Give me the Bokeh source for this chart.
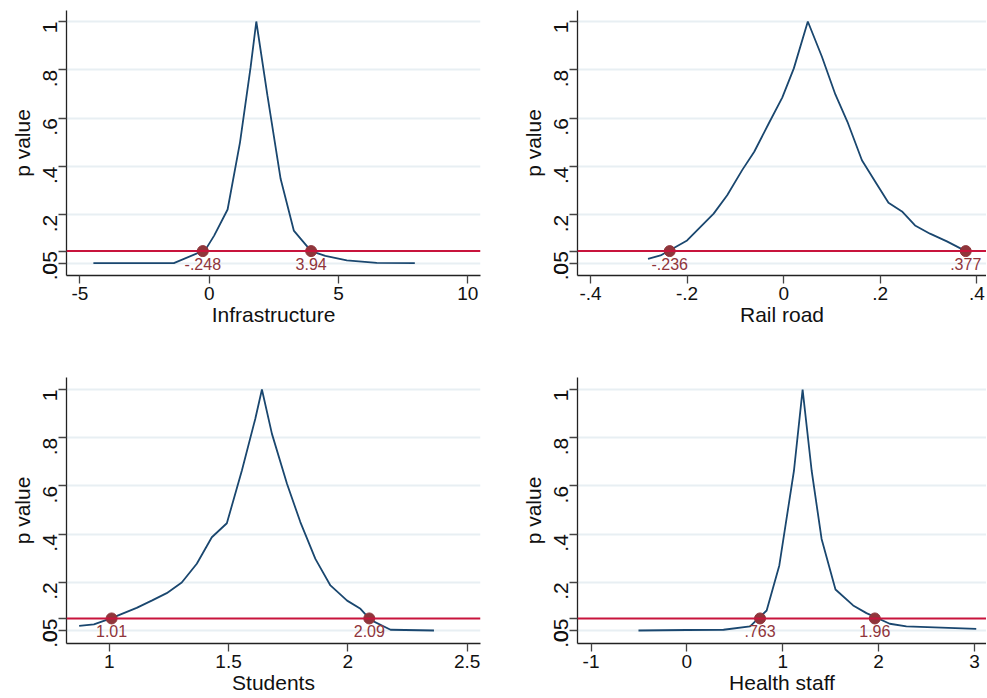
import math
from bokeh.plotting import figure
from bokeh.layouts import gridplot
from bokeh.models import FixedTicker, Span, ColumnDataSource, Range1d
from bokeh.core.properties import value
from bokeh.embed import file_html
from bokeh.resources import INLINE

# ---------------- data ----------------
alpha = 0.05
y_ticks = [0, 0.05, 0.2, 0.4, 0.6, 0.8, 1]
y_tick_labels = ["0", ".05", ".2", ".4", ".6", ".8", "1"]
grid_ticks = [0, 0.2, 0.4, 0.6, 0.8, 1]
y_label = "p value"

infra_title = "Infrastructure"
infra_x = [-4.48, -1.37, -0.15, 0.19, 0.71, 1.19, 1.60, 1.82, 2.25, 2.76, 3.27, 3.94, 4.49, 5.32, 6.48, 7.95]
infra_p = [0.0, 0.0, 0.055, 0.114, 0.222, 0.50, 0.811, 1.0, 0.694, 0.349, 0.135, 0.05, 0.03, 0.012, 0.001, 0.0]
infra_ci = [-0.248, 3.94]
infra_ci_labels = ["-.248", "3.94"]
infra_xticks = [-5, 0, 5, 10]
infra_xtick_labels = ["-5", "0", "5", "10"]

rail_title = "Rail road"
rail_x = [-0.281, -0.255, -0.2, -0.145, -0.117, -0.086, -0.061, -0.031, -0.003, 0.021, 0.05,
          0.079, 0.107, 0.132, 0.162, 0.19, 0.217, 0.245, 0.272, 0.303, 0.338, 0.377]
rail_p = [0.018, 0.032, 0.094, 0.205, 0.281, 0.385, 0.461, 0.578, 0.685, 0.806, 1.0,
          0.855, 0.698, 0.585, 0.426, 0.336, 0.250, 0.214, 0.156, 0.122, 0.090, 0.05]
rail_ci = [-0.236, 0.377]
rail_ci_labels = ["-.236", ".377"]
rail_xticks = [-0.4, -0.2, 0, 0.2, 0.4]
rail_xtick_labels = ["-.4", "-.2", "0", ".2", ".4"]

stud_title = "Students"
stud_x = [0.874, 0.936, 1.007, 1.115, 1.178, 1.241, 1.304, 1.367, 1.430, 1.493, 1.556, 1.612, 1.640,
          1.682, 1.745, 1.801, 1.864, 1.927, 1.997, 2.053, 2.095, 2.179, 2.361]
stud_p = [0.019, 0.025, 0.05, 0.094, 0.124, 0.155, 0.199, 0.277, 0.387, 0.445, 0.664, 0.878, 1.0,
          0.816, 0.609, 0.45, 0.297, 0.187, 0.124, 0.090, 0.044, 0.003, 0.0]
stud_ci = [1.01, 2.09]
stud_ci_labels = ["1.01", "2.09"]
stud_xticks = [1, 1.5, 2, 2.5]
stud_xtick_labels = ["1", "1.5", "2", "2.5"]

health_title = "Health staff"
health_x = [-0.505, 0.0, 0.382, 0.659, 0.832, 0.964, 1.117, 1.207, 1.301, 1.405, 1.550, 1.734,
            1.873, 2.116, 2.289, 3.018]
health_p = [0.0, 0.002, 0.003, 0.017, 0.083, 0.27, 0.664, 1.0, 0.664, 0.380, 0.170, 0.104,
            0.072, 0.028, 0.017, 0.007]
health_ci = [0.763, 1.96]
health_ci_labels = [".763", "1.96"]
health_xticks = [-1, 0, 1, 2, 3]
health_xtick_labels = ["-1", "0", "1", "2", "3"]

# ---------------- styling ----------------
FONT = "Liberation Sans"
LINE_COLOR = "#1a476f"
DOT_COLOR = "#90353b"
HLINE_COLOR = "#c8143c"
GRID_COLOR = "#e8eff3"


def panel(title, xs, ps, ci, ci_labels, xticks, xtick_labels, xr, yr, w, h, borders):
    bl, br, bt, bb = borders
    p = figure(width=w, height=h, output_backend="svg", toolbar_location=None,
               x_range=Range1d(*xr), y_range=Range1d(*yr),
               min_border_left=bl, min_border_right=br, min_border_top=bt, min_border_bottom=bb)
    p.outline_line_color = None
    p.background_fill_color = "white"
    p.border_fill_color = "white"

    p.xgrid.visible = False
    p.ygrid.ticker = FixedTicker(ticks=grid_ticks)
    p.ygrid.grid_line_color = GRID_COLOR
    p.ygrid.grid_line_width = 2

    for ax in (p.xaxis[0], p.yaxis[0]):
        ax.axis_line_color = "#222222"
        ax.axis_line_width = 1.3
        ax.major_tick_line_color = "#444444"
        ax.major_tick_line_width = 1.3
        ax.major_tick_out = 8
        ax.major_tick_in = 0
        ax.minor_tick_line_color = None
        ax.major_label_text_font = FONT
        ax.major_label_text_color = "#111111"
        ax.axis_label_text_font = FONT
        ax.axis_label_text_font_style = "normal"
        ax.axis_label_text_color = "#111111"

    p.xaxis.ticker = FixedTicker(ticks=xticks)
    p.xaxis.major_label_overrides = {t: l for t, l in zip(xticks, xtick_labels)}
    p.xaxis.major_label_text_font_size = "19px"
    p.xaxis.axis_label = title
    p.xaxis.axis_label_text_font_size = "21px"
    p.xaxis.major_label_standoff = 3
    p.xaxis.axis_label_standoff = 0

    p.yaxis.ticker = FixedTicker(ticks=y_ticks)
    p.yaxis.major_label_overrides = {t: l for t, l in zip(y_ticks, y_tick_labels)}
    p.yaxis.major_label_orientation = math.pi / 2
    p.yaxis.major_label_text_font_size = "21px"
    p.yaxis.axis_label = y_label
    p.yaxis.axis_label_text_font_size = "21px"
    p.yaxis.major_label_standoff = 8
    p.yaxis.axis_label_standoff = 0

    p.line(xs, ps, line_color=LINE_COLOR, line_width=1.8)
    p.add_layout(Span(location=alpha, dimension="width", line_color=HLINE_COLOR, line_width=2))

    src = ColumnDataSource(dict(x=ci, y=[alpha] * len(ci), t=ci_labels))
    p.scatter("x", "y", source=src, size=11, fill_color=DOT_COLOR, line_color=DOT_COLOR)
    p.text("x", "y", text="t", source=src, text_font=value(FONT), text_font_size="16px",
           text_color=DOT_COLOR, text_align="center", text_baseline="top", y_offset=7)
    return p


W_L, W_R = 493, 493
H_T, H_B = 345, 352
YR_T = (-0.051, 1.0455)
YR_B = (-0.054, 1.05)

p1 = panel(infra_title, infra_x, infra_p, infra_ci, infra_ci_labels, infra_xticks, infra_xtick_labels,
           (-5.52, 10.49), YR_T, W_L, H_T, (66, 13, 10, 70))
p2 = panel(rail_title, rail_x, rail_p, rail_ci, rail_ci_labels, rail_xticks, rail_xtick_labels,
           (-0.427, 0.42), YR_T, W_R, H_T, (84, 0, 10, 70))
p3 = panel(stud_title, stud_x, stud_p, stud_ci, stud_ci_labels, stud_xticks, stud_xtick_labels,
           (0.821, 2.556), YR_B, W_L, H_B, (66, 13, 32, 54))
p4 = panel(health_title, health_x, health_p, health_ci, health_ci_labels, health_xticks, health_xtick_labels,
           (-1.141, 3.125), YR_B, W_R, H_B, (84, 0, 32, 54))

grid = gridplot([[p1, p2], [p3, p4]], toolbar_location=None)

open("out.html", "w").write(file_html(grid, INLINE))
